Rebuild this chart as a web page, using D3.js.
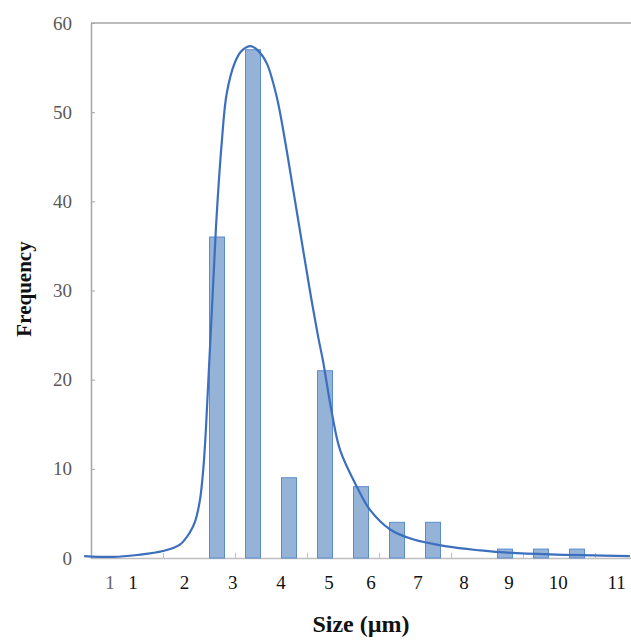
<!DOCTYPE html>
<html>
<head>
<meta charset="utf-8">
<script src="https://cdn.jsdelivr.net/npm/d3@7"></script>
<style>
  html, body { margin: 0; padding: 0; background: #fff; }
  svg { display: block; font-family: "Liberation Serif", "DejaVu Serif", serif; }
</style>
</head>
<body>
<div id="chart"></div>
<script>
// bins (category slots) and counts of the histogram
var bins = [0,1,2,3,4,5,6,7,8,9,10,11,12,13,14];
var counts = [0,0,0,36,57,9,21,8,4,4,0,1,1,1,0];

// fitted curve, x in bin units, y in frequency
var curveX = [-0.19,0.61,1.28,2.0,2.47,2.75,2.9,3.03,3.12,3.19,3.26,3.36,3.47,3.63,3.77,4.0,4.19,4.44,4.64,4.88,5.16,5.39,5.62,5.85,6.08,6.31,6.44,6.69,6.92,7.39,7.75,8.31,8.94,9.89,10.81,11.36,12.75,14.97];
var curveY = [0.22,0.12,0.34,0.78,1.5,2.9,4.2,6.6,10.0,14.3,19.9,28.0,37.0,46.5,52.1,55.6,56.9,57.4,56.9,55.5,51.7,46.8,41.2,35.6,30.0,24.8,22.2,16.3,12.1,7.95,5.4,3.2,2.1,1.3,0.85,0.65,0.4,0.22];

// x tick labels (text) and where they sit, in bin units
var xLabels = ["1","1","2","3","4","5","6","7","8","9","10","11"];
var xLabelPos = [0.53,1.17,2.6,3.94,5.28,6.61,7.78,9.08,10.36,11.61,12.98,14.6];
var xTickMarks = [2,4,6,8,10,12,14];
var yTicks = [0,10,20,30,40,50,60];

var W = 631, H = 641;
var pL = 91, pR = 631, pT = 23, pB = 558;

var svg = d3.select("#chart").append("svg").attr("width", W).attr("height", H);

var x = d3.scaleLinear().domain([0, 15]).range([pL, pR]);
var xb = d3.scaleBand().domain(bins).range([pL, pR]).paddingInner(0.583).paddingOuter(0.2915);
var y = d3.scaleLinear().domain([0, 60]).range([pB, pT]);

// frame: top line and y axis
svg.append("line").attr("x1", pL).attr("x2", pR).attr("y1", pT).attr("y2", pT)
  .attr("stroke", "#a6a6a6").attr("stroke-width", 1.5);

var yAxis = svg.append("g").attr("transform", "translate(" + pL + ",0)")
  .call(d3.axisRight(y).tickValues(yTicks).tickSize(4).tickSizeOuter(0).tickFormat(""));
yAxis.select(".domain").attr("stroke", "#a6a6a6").attr("stroke-width", 1.5);
yAxis.selectAll(".tick line").attr("stroke", "#a6a6a6");

svg.selectAll(".ylab").data(yTicks).enter().append("text")
  .attr("class", "ylab")
  .attr("x", 72).attr("y", function(d) { return y(d); })
  .attr("dy", "0.35em")
  .attr("text-anchor", "end")
  .attr("font-size", "19px").attr("fill", "#595959")
  .text(function(d) { return d; });

// x axis
var xAxis = svg.append("g").attr("transform", "translate(0," + pB + ")")
  .call(d3.axisTop(x).tickValues(xTickMarks).tickSize(5).tickSizeOuter(0).tickFormat(""));
xAxis.select(".domain").attr("stroke", "#bfbfbf").attr("stroke-width", 1.5);
xAxis.selectAll(".tick line").attr("stroke", "#bfbfbf");

svg.selectAll(".xlab").data(xLabels).enter().append("text")
  .attr("class", "xlab")
  .attr("x", function(d, i) { return x(xLabelPos[i]); })
  .attr("y", 589)
  .attr("text-anchor", "middle")
  .attr("font-size", "19px")
  .attr("fill", function(d, i) { return i == 0 ? "#666" : "#111"; })
  .text(function(d) { return d; });

// bars
svg.selectAll(".bar").data(counts).enter().append("rect")
  .attr("class", "bar")
  .attr("x", function(d, i) { return xb(bins[i]); })
  .attr("width", xb.bandwidth())
  .attr("y", function(d) { return y(d); })
  .attr("height", function(d) { return pB - y(d); })
  .attr("fill", "#95b3d7")
  .attr("stroke", "#5b8bd0").attr("stroke-width", 1)
  .style("display", function(d) { return d > 0 ? null : "none"; });

// fitted curve
var pts = curveX.map(function(d, i) { return [d, curveY[i]]; });
var line = d3.line()
  .x(function(d) { return x(d[0]); })
  .y(function(d) { return y(d[1]); })
  .curve(d3.curveCatmullRom.alpha(0.5));

svg.append("path").datum(pts)
  .attr("d", line)
  .attr("fill", "none")
  .attr("stroke", "#3d6fbf")
  .attr("stroke-width", 2.2);

// axis titles
svg.append("text")
  .attr("transform", "translate(31,289) rotate(-90)")
  .attr("text-anchor", "middle")
  .attr("font-size", "21px").attr("font-weight", "bold").attr("fill", "#111")
  .text("Frequency");

svg.append("text")
  .attr("x", 361).attr("y", 632)
  .attr("text-anchor", "middle")
  .attr("font-size", "24px").attr("font-weight", "bold").attr("fill", "#111")
  .text("Size (µm)");
</script>
</body>
</html>
